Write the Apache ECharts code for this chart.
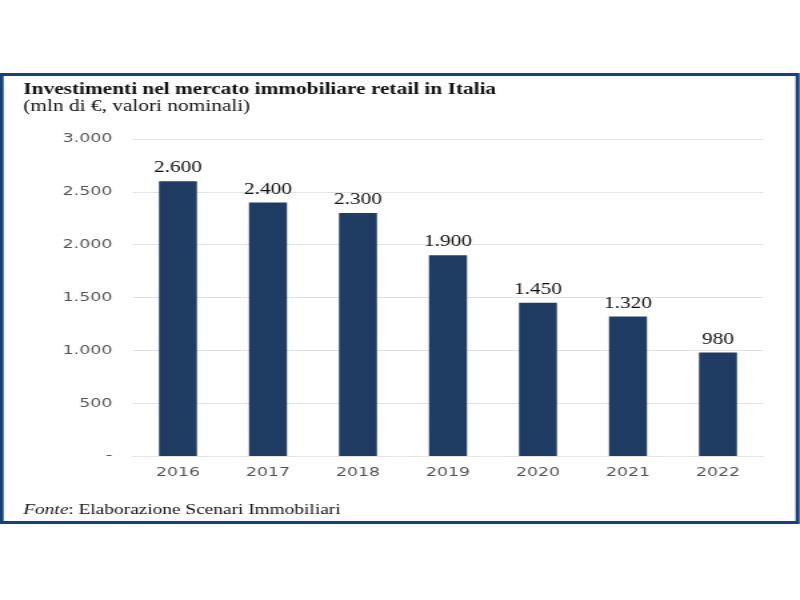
<!DOCTYPE html>
<html><head><meta charset="utf-8">
<script src="https://cdn.jsdelivr.net/npm/echarts@6/dist/echarts.min.js"></script>
<style>
html,body{margin:0;padding:0;background:#fff}
#wrap{width:800px;height:600px;overflow:hidden;position:relative}
#c{width:600px;height:600px;transform:scaleX(1.3333);transform-origin:0 0}
</style>
</head><body><div id="wrap"><div id="c"></div></div>
<script>
const categories = ['2016','2017','2018','2019','2020','2021','2022'];
const values = [2600, 2400, 2300, 1900, 1450, 1320, 980];
const yTicks = [0, 500, 1000, 1500, 2000, 2500, 3000];

function fmt(v){ return v === 0 ? '-' : String(v).replace(/\B(?=(\d{3})+(?!\d))/g, '.'); }

const chart = echarts.init(document.getElementById('c'));
chart.setOption({
  backgroundColor: '#fff',
  animation: false,
  title: [
    { text: 'Investimenti nel mercato immobiliare retail in Italia', left: 12.5, top: 77,
      textStyle: { fontFamily: 'Liberation Serif', fontSize: 16, fontWeight: 'bold', color: '#111' } },
    { text: '(mln di €, valori nominali)', left: 12.5, top: 94,
      textStyle: { fontFamily: 'Liberation Serif', fontSize: 16, fontWeight: 'normal', color: '#111' } },
    { text: '{i|Fonte}: Elaborazione Scenari Immobiliari', left: 12.5, top: 498,
      textStyle: { fontFamily: 'Liberation Serif', fontSize: 14.5, fontWeight: 'normal', color: '#111',
        rich: { i: { fontFamily: 'Liberation Serif', fontSize: 14.5, fontStyle: 'italic', color: '#111' } } } }
  ],
  graphic: [
    { type: 'rect', shape: { x: 1.2, y: 74.5, width: 597, height: 448 },
      style: { fill: 'none', stroke: '#173f7a', lineWidth: 3 }, z: 100 }
  ],
  grid: { left: 99.75, right: 27.75, top: 139, bottom: 144, containLabel: false },
  xAxis: {
    type: 'category', data: categories,
    axisLine: { show: true, lineStyle: { color: '#e3e3e3' } },
    axisTick: { show: false },
    axisLabel: { color: '#555', fontFamily: 'DejaVu Sans', fontSize: 13, margin: 10 }
  },
  yAxis: {
    type: 'value', min: yTicks[0], max: yTicks[yTicks.length - 1], interval: 500,
    axisLine: { show: false }, axisTick: { show: false },
    splitLine: { lineStyle: { color: '#e3e3e3' } },
    axisLabel: { color: '#555', fontFamily: 'DejaVu Sans', fontSize: 13, margin: 15.5,
      formatter: v => fmt(v) }
  },
  series: [{
    type: 'bar', data: values, barWidth: 28.5,
    itemStyle: { color: '#1f3d63' },
    label: { show: true, position: 'top', distance: 5, color: '#111',
      fontFamily: 'Liberation Serif', fontSize: 16, formatter: p => fmt(p.value) }
  }]
});
</script></body></html>
